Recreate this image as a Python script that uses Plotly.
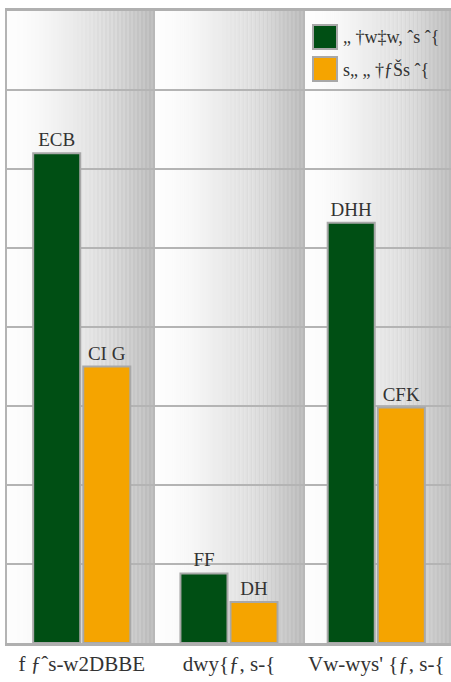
import plotly.graph_objects as go

# Category labels and series, as printed in the chart's own font encoding
categories = ["f ƒˆs-w2DBBE", "dwy{ƒ, s-{", "Vw-wys' {ƒ, s-{"]
series_names = ["„ †w‡w, ˆs ˆ{", "s„ „ †ƒŠs ˆ{"]
green_values = [310, 44, 266]
orange_values = [175, 26, 149]
y_ticks = [0, 50, 100, 150, 200, 250, 300, 350, 400]

# The chart font maps digits onto shifted letter glyphs
DIGIT_GLYPHS = str.maketrans({"0": "B", "1": "C", "2": "D", "3": "E", "4": "F",
                              "5": "G", "6": "H", "7": "I ", "8": "J", "9": "K"})


def glyph_label(v):
    return str(v).translate(DIGIT_GLYPHS)


GREEN = "#004f14"
ORANGE = "#f5a400"
TEXT = "#333333"
FONT = "Liberation Serif, Times New Roman, serif"

W, H = 451, 682
ML, MR, MT, MB = 7, 0, 11, 39
plot_w = W - ML - MR
plot_h = H - MT - MB
x_lo, x_hi = -0.5076, 2.5076


def px_x(px):
    return (px - ML) / plot_w


def px_y(py):
    return (H - MB - py) / plot_h


fig = go.Figure()
xs = list(range(len(categories)))
for vals, color, name in [(green_values, GREEN, series_names[0]),
                          (orange_values, ORANGE, series_names[1])]:
    fig.add_trace(go.Bar(
        x=xs, y=vals, name=name,
        marker=dict(color=color, line=dict(color="#a8a8a8", width=2)),
        text=[glyph_label(v) for v in vals], textposition="outside",
        textfont=dict(family=FONT, size=19, color=TEXT),
        cliponaxis=False, showlegend=False,
    ))

# Shaded background: three bands, each fading from white to a striped grey
shapes = []
band_edges = [7, 155, 305, 455]
N = 74
for b in range(3):
    left, right = band_edges[b], band_edges[b + 1]
    step = (right - left) / N
    for k in range(N):
        t = (k + 0.5) / N
        g = 254 - 70 * t ** 1.6
        if t > 0.4 and k % 2 == 0:
            g += 7 * min(1.0, (t - 0.4) / 0.3)
        g = int(max(0, min(255, g)))
        x0 = left + k * step
        shapes.append(dict(type="rect", xref="paper", yref="paper",
                           x0=px_x(x0), x1=px_x(x0 + step + 0.3), y0=0, y1=1,
                           fillcolor=f"rgb({g},{g},{g})", line=dict(width=0),
                           layer="below"))

# Legend: square swatches with labels
annotations = []
for j, (color, name) in enumerate([(GREEN, series_names[0]), (ORANGE, series_names[1])]):
    top = 25 + 32 * j
    shapes.append(dict(type="rect", xref="paper", yref="paper",
                       x0=px_x(313), x1=px_x(337), y0=px_y(top + 24), y1=px_y(top),
                       fillcolor=color, line=dict(color="#a8a8a8", width=2),
                       layer="above"))
    annotations.append(dict(xref="paper", yref="paper", x=px_x(341), y=px_y(top + 12),
                            text=name, showarrow=False, xanchor="left", yanchor="middle",
                            font=dict(family=FONT, size=18, color=TEXT)))

fig.update_layout(
    width=W, height=H,
    margin=dict(l=ML, r=MR, t=MT, b=MB, pad=0),
    paper_bgcolor="white", plot_bgcolor="white",
    barmode="group", bargap=0.32, bargroupgap=0.06,
    shapes=shapes, annotations=annotations,
    showlegend=False,
)
fig.update_xaxes(range=[x_lo, x_hi], tickvals=xs, ticktext=categories,
                 tickfont=dict(family=FONT, size=21, color=TEXT),
                 showgrid=False, showline=True, linecolor="#b0b0b0", linewidth=3,
                 mirror=True, ticks="", zeroline=False, ticklabelstandoff=0)
fig.update_yaxes(range=[0, 400], tickvals=y_ticks, showticklabels=False,
                 showgrid=True, gridcolor="#b4b4b4", gridwidth=2,
                 showline=True, linecolor="#b4b4b4", linewidth=2,
                 zeroline=False, ticks="")

fig.write_html("out.html")
